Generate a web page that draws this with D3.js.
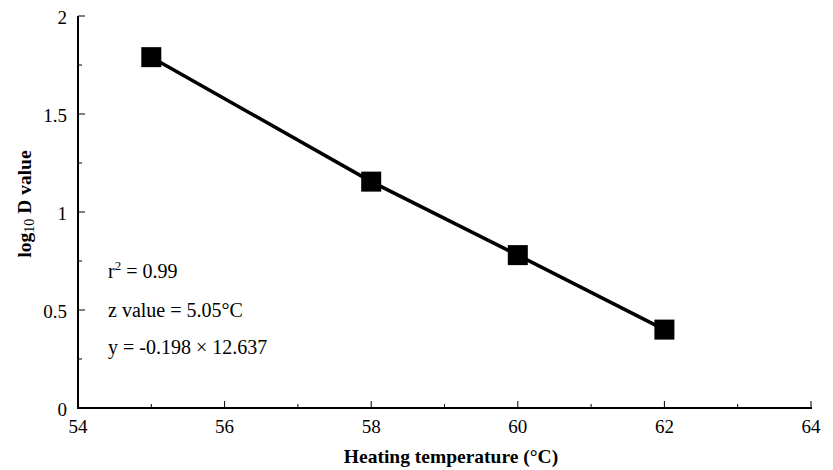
<!DOCTYPE html>
<html lang="en">
<head>
<meta charset="utf-8">
<script src="https://cdnjs.cloudflare.com/ajax/libs/d3/7.8.5/d3.min.js"></script>
<style>
body { margin: 0; background: #fff; }
text { font-family: "Liberation Serif", "Times New Roman", serif; fill: #000; }
.tick-label { font-size: 19px; }
.axis-title { font-size: 19.5px; font-weight: bold; }
.note { font-size: 20px; }
</style>
</head>
<body>
<div id="chart"></div>
<script>
// data
const temps = [55, 58, 60, 62];
const logD = [1.79, 1.155, 0.78, 0.40];
const xTicks = [54, 56, 58, 60, 62, 64];
const yTicks = [0, 0.5, 1, 1.5, 2];
const yTickLabels = ["0", "0.5", "1", "1.5", "2"];
const notes = ["z value = 5.05°C", "y = -0.198 × 12.637"];

const w = 833, h = 470;
const x0 = 78, x1 = 811, y0 = 408, y1 = 16;

const svg = d3.select("#chart").append("svg")
  .attr("width", w).attr("height", h);

const x = d3.scaleLinear().domain([54, 64]).range([x0, x1]);
const y = d3.scaleLinear().domain([0, 2]).range([y0, y1]);

// minor ticks (inward)
const xMinor = d3.range(55, 64, 2);
const yMinor = d3.range(0.25, 2, 0.5);

svg.selectAll(".xmaj").data(xTicks).enter().append("line")
  .attr("x1", d => x(d)).attr("x2", d => x(d))
  .attr("y1", y0).attr("y2", y0 - 7)
  .attr("stroke", "#000").attr("stroke-width", 1);
svg.selectAll(".xmin").data(xMinor).enter().append("line")
  .attr("x1", d => x(d)).attr("x2", d => x(d))
  .attr("y1", y0).attr("y2", y0 - 4)
  .attr("stroke", "#000").attr("stroke-width", 1);
svg.selectAll(".ymaj").data(yTicks).enter().append("line")
  .attr("x1", x0).attr("x2", x0 + 7)
  .attr("y1", d => y(d)).attr("y2", d => y(d))
  .attr("stroke", "#000").attr("stroke-width", 1);
svg.selectAll(".ymin").data(yMinor).enter().append("line")
  .attr("x1", x0).attr("x2", x0 + 4)
  .attr("y1", d => y(d)).attr("y2", d => y(d))
  .attr("stroke", "#000").attr("stroke-width", 1);

// axis lines
svg.append("line")
  .attr("x1", x0).attr("x2", x1 + 1)
  .attr("y1", y0).attr("y2", y0)
  .attr("stroke", "#000").attr("stroke-width", 2);
svg.append("line")
  .attr("x1", x0).attr("x2", x0)
  .attr("y1", y1).attr("y2", y0 + 1)
  .attr("stroke", "#000").attr("stroke-width", 2);

// tick labels
svg.selectAll(".xl").data(xTicks).enter().append("text")
  .attr("class", "tick-label")
  .attr("x", d => x(d)).attr("y", y0 + 25)
  .attr("text-anchor", "middle")
  .text(d => d);
svg.selectAll(".yl").data(yTicks).enter().append("text")
  .attr("class", "tick-label")
  .attr("x", x0 - 11).attr("y", d => y(d) + 8)
  .attr("text-anchor", "end")
  .text((d, i) => yTickLabels[i]);

// regression line and points
const pts = temps.map((t, i) => ({t: t, v: logD[i]}));
svg.append("path")
  .datum(pts)
  .attr("d", d3.line().x(d => x(d.t)).y(d => y(d.v)))
  .attr("fill", "none").attr("stroke", "#000").attr("stroke-width", 3.5);

const s = 20;
svg.selectAll(".pt").data(pts).enter().append("rect")
  .attr("x", d => x(d.t) - s / 2).attr("y", d => y(d.v) - s / 2)
  .attr("width", s).attr("height", s)
  .attr("fill", "#000");

// annotations
const r2 = svg.append("text").attr("class", "note")
  .attr("x", 108).attr("y", 278);
r2.append("tspan").text("r");
r2.append("tspan").attr("dy", -8).style("font-size", "13px").text("2");
r2.append("tspan").attr("dy", 8).text(" = 0.99");

svg.selectAll(".nt").data(notes).enter().append("text")
  .attr("class", "note")
  .attr("x", 108).attr("y", (d, i) => 317 + i * 37)
  .text(d => d);

// axis titles
svg.append("text")
  .attr("class", "axis-title")
  .attr("x", 451).attr("y", 463)
  .attr("text-anchor", "middle")
  .text("Heating temperature (°C)");

const yt = svg.append("text")
  .attr("class", "axis-title")
  .attr("transform", "translate(31,204) rotate(-90)")
  .attr("text-anchor", "middle");
yt.append("tspan").text("log");
yt.append("tspan").attr("dy", 3).style("font-size", "14px").style("font-weight", "normal").text("10");
yt.append("tspan").attr("dy", -3).text(" D value");
</script>
</body>
</html>
